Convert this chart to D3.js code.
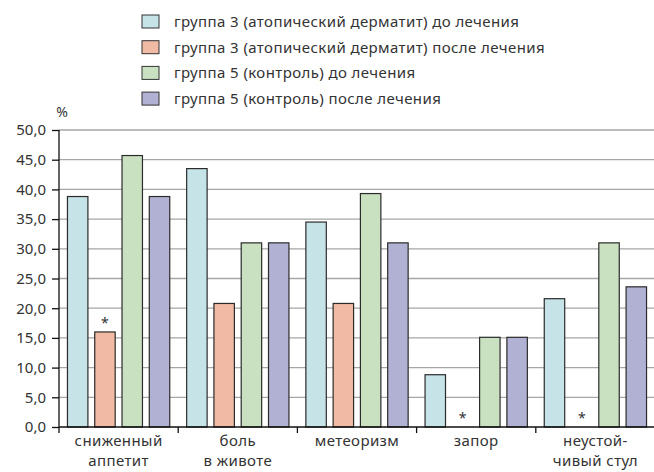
<!DOCTYPE html>
<html>
<head>
<meta charset="utf-8">
<script src="https://cdn.jsdelivr.net/npm/d3@7"></script>
<style>
  body { margin: 0; background: #fff; }
  text { font-family: "Noto Sans", sans-serif; fill: #333; }
</style>
</head>
<body>
<div id="main"></div>
<script>
// data
var categories = [["сниженный", "аппетит"], ["боль", "в животе"], ["метеоризм"], ["запор"], ["неустой-", "чивый стул"]];
var seriesNames = [
  "группа 3 (атопический дерматит) до лечения",
  "группа 3 (атопический дерматит) после лечения",
  "группа 5 (контроль) до лечения",
  "группа 5 (контроль) после лечения"
];
var g3Before = [38.8, 43.5, 34.5, 8.8, 21.6];
var g3After = [16.0, 20.8, 20.8, 0, 0];
var g5Before = [45.7, 31.0, 39.3, 15.1, 31.0];
var g5After = [38.8, 31.0, 31.0, 15.1, 23.6];
// asterisk over "после лечения" group 3
var g3AfterStar = [true, false, false, true, true];
var yTicks = [0, 5, 10, 15, 20, 25, 30, 35, 40, 45, 50];
var colors = ["#c6e3e8", "#f0baa5", "#c9e1c1", "#b1b1d4"];

var seriesValues = [g3Before, g3After, g5Before, g5After];

var width = 654;
var height = 472;

var svg = d3.select('#main')
  .append('svg')
  .attr('width', width)
  .attr('height', height);

var x = d3.scaleBand()
  .domain(d3.range(categories.length))
  .range([59, 655])
  .padding(0);

var xs = d3.scaleBand()
  .domain(d3.range(seriesNames.length))
  .range([0, x.bandwidth()])
  .paddingInner(0.25)
  .paddingOuter(0.31);

var y = d3.scaleLinear()
  .domain([0, 50])
  .range([427, 130]);

// gridlines
svg.append('g')
  .selectAll('line')
  .data(yTicks.slice(1))
  .enter().append('line')
  .attr('x1', 59)
  .attr('x2', 654)
  .attr('y1', function(d) { return y(d); })
  .attr('y2', function(d) { return y(d); })
  .attr('stroke', '#a6a6a6')
  .attr('stroke-width', 1.3);

// bars
var groups = svg.append('g')
  .selectAll('g')
  .data(categories)
  .enter().append('g')
  .attr('transform', function(d, i) { return 'translate(' + x(i) + ',0)'; });

groups.selectAll('rect')
  .data(function(d, i) {
    return seriesValues.map(function(s, j) { return { s: j, v: s[i] }; })
      .filter(function(e) { return e.v > 0; });
  })
  .enter().append('rect')
  .attr('x', function(d) { return xs(d.s); })
  .attr('width', xs.bandwidth())
  .attr('y', function(d) { return y(d.v); })
  .attr('height', function(d) { return y(0) - y(d.v); })
  .attr('fill', function(d) { return colors[d.s]; })
  .attr('stroke', '#2b2b2b')
  .attr('stroke-width', 1.2);

// asterisks
groups.filter(function(d, i) { return g3AfterStar[i]; })
  .append('text')
  .attr('x', xs(1) + xs.bandwidth() / 2)
  .attr('y', function(d) {
    var idx = categories.indexOf(d);
    return y(g3After[idx]) - 4;
  })
  .attr('text-anchor', 'middle')
  .attr('font-size', 14)
  .text('*');

// y axis
var yAxis = svg.append('g')
  .attr('transform', 'translate(59,0)')
  .call(d3.axisLeft(y)
    .tickValues(yTicks)
    .tickSize(7)
    .tickPadding(6)
    .tickFormat(function(d) { return d3.format('.1f')(d).replace('.', ','); }));
yAxis.select('.domain').attr('stroke', '#111').attr('stroke-width', 1.3).attr('d', 'M0,' + y(50) + 'V' + y(0));
yAxis.selectAll('.tick line').attr('stroke', '#111').attr('stroke-width', 1.3);
yAxis.selectAll('.tick text').attr('font-size', 15).attr('fill', '#333')
  .style('font-family', '"Noto Sans", sans-serif');

svg.append('text')
  .attr('x', 62)
  .attr('y', 117)
  .attr('text-anchor', 'middle')
  .attr('font-size', 14)
  .text('%');

// x axis
svg.append('line')
  .attr('x1', 59).attr('x2', 654)
  .attr('y1', y(0)).attr('y2', y(0))
  .attr('stroke', '#111').attr('stroke-width', 1.3);

svg.append('g')
  .selectAll('line')
  .data(d3.range(categories.length))
  .enter().append('line')
  .attr('x1', function(i) { return x(i); })
  .attr('x2', function(i) { return x(i); })
  .attr('y1', y(0))
  .attr('y2', y(0) + 6)
  .attr('stroke', '#111').attr('stroke-width', 1.3);

var labels = svg.append('g')
  .selectAll('text')
  .data(categories)
  .enter().append('text')
  .attr('text-anchor', 'middle')
  .attr('font-size', 15)
  .attr('letter-spacing', 0.4)
  .attr('transform', function(d, i) { return 'translate(' + (x(i) + x.bandwidth() / 2) + ',0)'; });

labels.selectAll('tspan')
  .data(function(d) { return d; })
  .enter().append('tspan')
  .attr('x', 0)
  .attr('y', function(d, i) { return 446 + i * 20; })
  .text(function(d) { return d; });

// legend
var legend = svg.append('g')
  .selectAll('g')
  .data(seriesNames)
  .enter().append('g')
  .attr('transform', function(d, i) { return 'translate(142,' + (22 + i * 25.7) + ')'; });

legend.append('rect')
  .attr('x', 0)
  .attr('y', -7)
  .attr('width', 17)
  .attr('height', 13)
  .attr('fill', function(d, i) { return colors[i]; })
  .attr('stroke', '#333')
  .attr('stroke-width', 1);

legend.append('text')
  .attr('x', 32)
  .attr('y', 5)
  .attr('font-size', 15)
  .attr('letter-spacing', 0.4)
  .text(function(d) { return d; });
</script>
</body>
</html>
